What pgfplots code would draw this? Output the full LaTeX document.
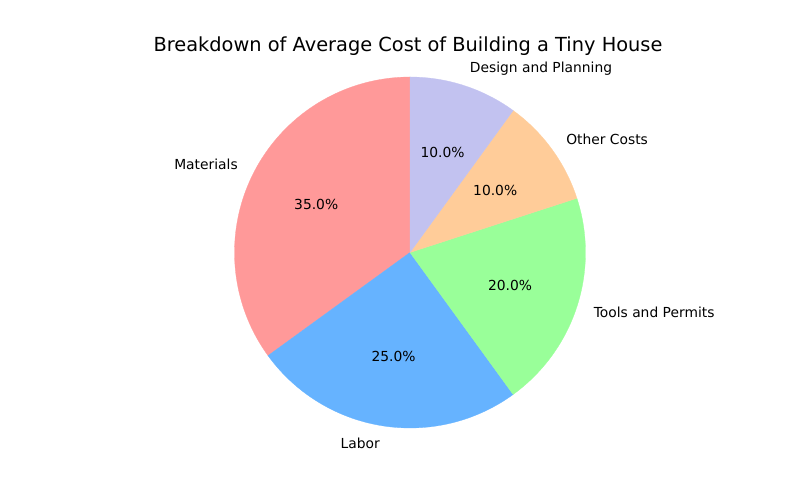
\documentclass[border=0pt]{standalone}
\usepackage{pgfplots}
\pgfplotsset{compat=1.18}
\usepackage{fontspec}
\setmainfont{DejaVu Sans}
\definecolor{cmat}{HTML}{FF9999}
\definecolor{clab}{HTML}{66B3FF}
\definecolor{ctool}{HTML}{99FF99}
\definecolor{cother}{HTML}{FFCC99}
\definecolor{cdes}{HTML}{C2C2F0}
\begin{document}
\begin{tikzpicture}
% values: Materials 35, Labor 25, Tools and Permits 20, Other Costs 10, Design and Planning 10
% start angle 90 deg, counter-clockwise, 3.6 deg per percent
\begin{axis}[
  width=8in, height=5in, scale only axis,
  xmin=0, xmax=800, ymin=0, ymax=500,
  hide axis, clip=false,
  samples=90, variable=\t,
]
\path (axis cs:0,0) rectangle (axis cs:800,500);
\addplot[fill=cmat, draw=cmat, line width=0.2pt, domain=90:216]
  ({410+175.5*cos(t)},{247.5+175.5*sin(t)}) -- (axis cs:410,247.5) -- cycle;
\addplot[fill=clab, draw=clab, line width=0.2pt, domain=216:306]
  ({410+175.5*cos(t)},{247.5+175.5*sin(t)}) -- (axis cs:410,247.5) -- cycle;
\addplot[fill=ctool, draw=ctool, line width=0.2pt, domain=306:378]
  ({410+175.5*cos(t)},{247.5+175.5*sin(t)}) -- (axis cs:410,247.5) -- cycle;
\addplot[fill=cother, draw=cother, line width=0.2pt, domain=18:54]
  ({410+175.5*cos(t)},{247.5+175.5*sin(t)}) -- (axis cs:410,247.5) -- cycle;
\addplot[fill=cdes, draw=cdes, line width=0.2pt, domain=54:90]
  ({410+175.5*cos(t)},{247.5+175.5*sin(t)}) -- (axis cs:410,247.5) -- cycle;

\begin{scope}[every node/.style={font=\fontsize{10}{12}\selectfont, inner sep=0pt}]
\node[anchor=east] at (axis cs:238,335.2) {Materials};
\node[anchor=east] at (axis cs:380,56.8) {Labor};
\node[anchor=west] at (axis cs:593.5,188) {Tools and Permits};
\node[anchor=west] at (axis cs:566,361) {Other Costs};
\node[anchor=west] at (axis cs:469.6,431) {Design and Planning};
\node at (axis cs:316.2,295.3) {35.0\%};
\node at (axis cs:393.5,143.5) {25.0\%};
\node at (axis cs:510.1,215) {20.0\%};
\node at (axis cs:495.2,309.4) {10.0\%};
\node at (axis cs:442.5,347.6) {10.0\%};
\end{scope}
\node[font=\fontsize{14}{17}\selectfont, inner sep=0pt] at (axis cs:408,454) {Breakdown of Average Cost of Building a Tiny House};
\end{axis}
\end{tikzpicture}
\end{document}
